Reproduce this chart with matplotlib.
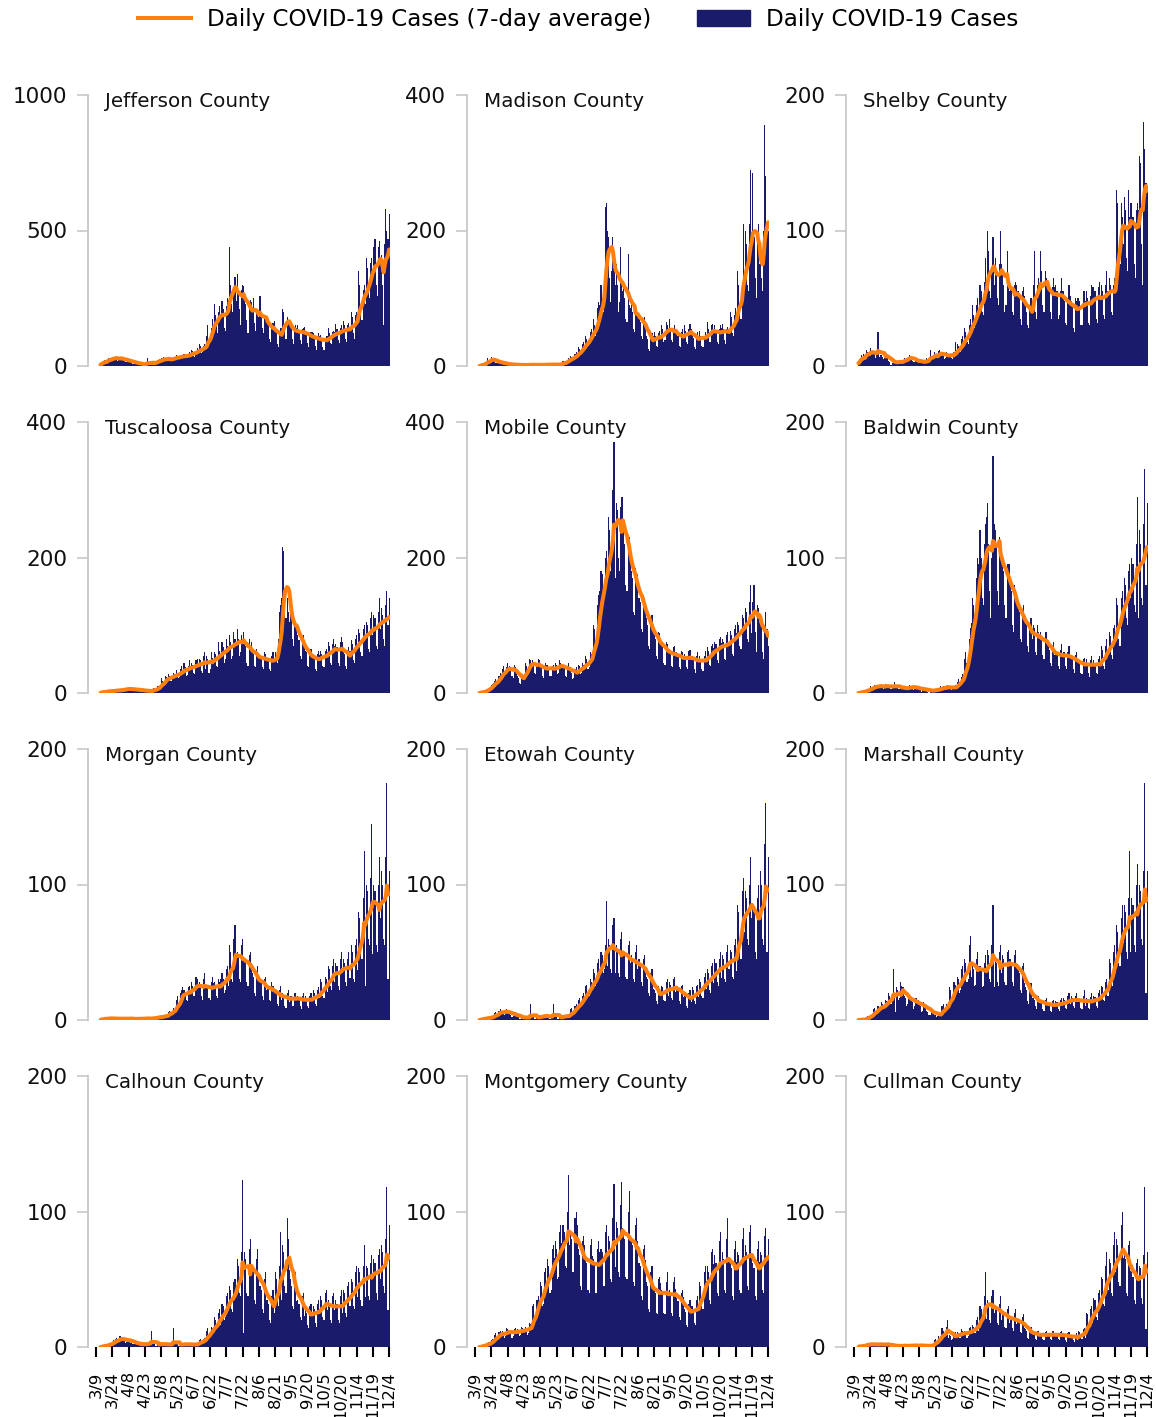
import numpy as np
import pandas as pd
import matplotlib
matplotlib.use("Agg")
import matplotlib.pyplot as plt
from matplotlib.lines import Line2D
from matplotlib.patches import Patch

# ---------------- data ----------------
counties = ["Jefferson County", "Madison County", "Shelby County",
            "Tuscaloosa County", "Mobile County", "Baldwin County",
            "Morgan County", "Etowah County", "Marshall County",
            "Calhoun County", "Montgomery County", "Cullman County"]
y_max = [1000, 400, 200, 400, 400, 200, 200, 200, 200, 200, 200, 200]

tick_days = list(range(0, 271, 15))
tick_labels = ["3/9", "3/24", "4/8", "4/23", "5/8", "5/23", "6/7", "6/22", "7/7",
               "7/22", "8/6", "8/21", "9/5", "9/20", "10/5", "10/20", "11/4",
               "11/19", "12/4"]
first_day = 4  # 3/13 (days counted from 3/9)

jefferson = [
    5, 10, 14, 18, 22, 18, 20,
    30, 25, 22, 28, 32, 30, 29,
    35, 26, 20, 24, 30, 34, 27,
    25, 18, 14, 16, 22, 24, 21,
    15, 10, 8, 9, 13, 14, 15,
    8, 5, 3, 4, 6, 8, 7,
    12, 30, 6, 5, 10, 9, 8,
    20, 17, 12, 14, 22, 24, 19,
    28, 24, 35, 18, 25, 27, 20,
    32, 27, 20, 22, 30, 35, 30,
    40, 36, 28, 26, 38, 42, 35,
    45, 40, 30, 28, 44, 50, 43,
    60, 55, 38, 35, 55, 65, 56,
    80, 72, 48, 50, 75, 82, 70,
    110, 150, 95, 90, 140, 175, 150,
    230, 190, 150, 120, 200, 220, 185,
    240, 210, 140, 130, 220, 250, 245,
    440, 300, 230, 200, 290, 330, 240,
    340, 280, 210, 150, 280, 300, 295,
    250, 230, 170, 120, 220, 245, 235,
    210, 250, 160, 130, 200, 200, 180,
    260, 190, 140, 120, 180, 190, 170,
    165, 150, 100, 90, 150, 160, 165,
    130, 120, 80, 70, 125, 140, 140,
    210, 200, 150, 100, 180, 165, 150,
    160, 140, 100, 80, 140, 150, 140,
    150, 130, 95, 80, 135, 140, 145,
    130, 120, 85, 70, 115, 125, 125,
    120, 110, 75, 60, 105, 120, 110,
    115, 100, 70, 60, 100, 110, 110,
    140, 120, 85, 80, 125, 130, 125,
    155, 135, 95, 85, 140, 150, 136,
    165, 150, 100, 90, 150, 160, 130,
    200, 180, 120, 100, 190, 200, 165,
    350, 300, 190, 170, 280, 300, 230,
    400, 360, 280, 250, 380, 400, 345,
    440, 470, 300, 260, 440, 460, 400,
    410, 300, 150, 450, 580, 500, 470,
    560]

madison = [
    0, 1, 2, 3, 4, 5, 4,
    12, 8, 6, 10, 14, 9, 7,
    8, 5, 4, 5, 7, 6, 5,
    4, 3, 2, 3, 4, 3, 2,
    2, 2, 1, 1, 3, 2, 2,
    2, 1, 1, 2, 2, 1, 2,
    1, 2, 1, 1, 2, 3, 2,
    2, 1, 1, 2, 2, 2, 1,
    2, 3, 1, 1, 2, 2, 3,
    2, 2, 1, 2, 3, 2, 2,
    3, 2, 1, 2, 3, 4, 3,
    8, 6, 4, 5, 9, 12, 10,
    15, 14, 10, 9, 18, 20, 16,
    28, 25, 18, 20, 32, 35, 30,
    45, 40, 30, 32, 50, 55, 48,
    70, 60, 45, 55, 85, 95, 90,
    120, 100, 80, 130, 235, 240, 200,
    190, 130, 95, 140, 190, 150, 120,
    150, 120, 80, 95, 175, 130, 110,
    120, 100, 70, 65, 165, 90, 85,
    95, 80, 55, 50, 90, 85, 80,
    75, 65, 45, 40, 70, 72, 65,
    45, 40, 25, 22, 42, 48, 44,
    50, 45, 30, 28, 48, 52, 42,
    60, 55, 35, 38, 65, 60, 50,
    70, 55, 38, 35, 55, 60, 52,
    50, 45, 30, 28, 50, 55, 45,
    60, 52, 35, 33, 55, 62, 55,
    48, 42, 28, 25, 45, 50, 42,
    52, 45, 30, 28, 45, 50, 45,
    65, 55, 35, 35, 60, 62, 52,
    60, 52, 35, 32, 55, 60, 56,
    62, 55, 38, 33, 55, 58, 50,
    80, 72, 48, 45, 75, 85, 65,
    140, 120, 80, 70, 120, 210, 130,
    200, 180, 120, 110, 210, 290, 180,
    285, 190, 130, 100, 200, 210, 150,
    150, 130, 110, 200, 355, 280, 210,
    200]

shelby = [
    2, 4, 6, 8, 7, 9, 6,
    12, 10, 8, 9, 13, 11, 9,
    10, 9, 6, 8, 25, 7, 8,
    8, 7, 5, 6, 9, 8, 7,
    4, 3, 1, 2, 4, 3, 4,
    3, 2, 2, 3, 4, 3, 4,
    6, 5, 4, 5, 7, 8, 7,
    5, 4, 3, 3, 5, 4, 4,
    3, 4, 2, 2, 3, 4, 3,
    6, 5, 4, 12, 6, 7, 5,
    10, 9, 6, 7, 11, 12, 9,
    9, 8, 5, 6, 10, 9, 8,
    8, 9, 6, 5, 10, 18, 8,
    16, 15, 12, 10, 20, 22, 18,
    28, 25, 18, 16, 30, 35, 30,
    45, 38, 28, 30, 45, 50, 42,
    60, 55, 40, 38, 62, 80, 55,
    100, 85, 55, 50, 70, 95, 60,
    80, 70, 50, 45, 75, 100, 75,
    70, 60, 40, 45, 85, 60, 55,
    60, 55, 40, 38, 60, 62, 60,
    55, 50, 35, 30, 55, 58, 52,
    45, 40, 30, 28, 45, 50, 42,
    60, 85, 40, 35, 60, 65, 55,
    85, 70, 45, 40, 70, 65, 60,
    60, 55, 40, 35, 58, 65, 58,
    60, 55, 35, 38, 55, 65, 55,
    55, 48, 32, 30, 50, 60, 52,
    48, 45, 28, 25, 50, 48, 50,
    50, 48, 30, 30, 55, 55, 48,
    55, 50, 32, 30, 52, 60, 58,
    58, 55, 35, 32, 58, 62, 50,
    60, 55, 38, 35, 60, 70, 55,
    65, 60, 40, 38, 60, 65, 65,
    130, 120, 80, 75, 120, 110, 90,
    125, 115, 80, 70, 130, 110, 120,
    120, 110, 75, 65, 115, 120, 115,
    155, 150, 90, 60, 180, 160, 135,
    130]

tuscaloosa = [
    0, 1, 2, 2, 3, 2, 3,
    3, 2, 2, 3, 4, 3, 4,
    5, 4, 3, 3, 5, 4, 5,
    7, 6, 4, 5, 8, 7, 6,
    6, 5, 3, 4, 6, 6, 5,
    5, 4, 2, 3, 5, 4, 4,
    3, 3, 2, 2, 4, 3, 4,
    8, 6, 5, 6, 10, 9, 12,
    22, 18, 14, 15, 25, 24, 22,
    28, 25, 18, 20, 30, 28, 26,
    34, 30, 22, 24, 35, 40, 30,
    45, 38, 25, 26, 40, 48, 38,
    45, 42, 30, 28, 48, 50, 42,
    50, 48, 32, 30, 55, 60, 35,
    55, 50, 30, 35, 60, 52, 48,
    60, 58, 40, 38, 75, 62, 52,
    75, 68, 45, 50, 80, 70, 67,
    85, 75, 50, 55, 90, 80, 70,
    95, 80, 55, 60, 85, 80, 90,
    75, 70, 45, 40, 80, 70, 75,
    60, 58, 40, 38, 65, 60, 57,
    55, 52, 38, 35, 60, 58, 52,
    52, 50, 35, 32, 55, 60, 52,
    60, 55, 45, 80, 120, 130, 140,
    215, 210, 150, 110, 140, 120, 105,
    120, 110, 80, 70, 110, 105, 100,
    85, 78, 55, 50, 80, 85, 70,
    62, 60, 40, 38, 62, 65, 58,
    55, 52, 35, 32, 58, 62, 56,
    62, 58, 40, 38, 62, 65, 60,
    75, 70, 45, 42, 72, 80, 70,
    72, 68, 45, 40, 75, 82, 75,
    60, 58, 40, 35, 62, 68, 62,
    78, 72, 48, 45, 80, 85, 70,
    95, 88, 60, 55, 95, 100, 85,
    105, 100, 65, 60, 110, 120, 85,
    115, 110, 70, 65, 120, 140, 95,
    125, 115, 80, 70, 130, 150, 100,
    140]

mobile = [
    0, 1, 1, 2, 3, 3, 4,
    6, 8, 7, 9, 12, 14, 15,
    18, 20, 15, 18, 25, 30, 28,
    35, 40, 25, 28, 38, 45, 35,
    40, 35, 25, 22, 42, 38, 30,
    25, 22, 15, 14, 25, 28, 24,
    45, 40, 30, 35, 50, 48, 45,
    48, 45, 30, 28, 45, 50, 48,
    40, 38, 25, 22, 40, 45, 42,
    42, 38, 25, 25, 40, 42, 38,
    45, 42, 28, 30, 48, 45, 42,
    42, 38, 25, 24, 40, 45, 38,
    35, 30, 20, 22, 35, 38, 30,
    42, 40, 28, 30, 45, 42, 40,
    55, 50, 35, 38, 60, 58, 54,
    100, 95, 70, 80, 130, 145, 150,
    180, 175, 130, 140, 200, 210, 190,
    260, 240, 180, 200, 300, 370, 170,
    280, 270, 200, 180, 275, 290, 290,
    240, 220, 160, 150, 220, 230, 215,
    180, 170, 120, 115, 185, 175, 175,
    140, 135, 95, 90, 145, 140, 130,
    110, 100, 70, 65, 110, 115, 95,
    85, 80, 55, 50, 90, 88, 77,
    70, 68, 45, 42, 75, 72, 62,
    65, 60, 40, 38, 68, 70, 58,
    60, 55, 38, 35, 62, 60, 54,
    58, 55, 38, 35, 62, 64, 52,
    55, 52, 35, 30, 55, 60, 49,
    55, 50, 35, 32, 55, 62, 47,
    68, 62, 42, 40, 70, 72, 66,
    75, 72, 48, 45, 80, 82, 74,
    80, 75, 50, 48, 85, 90, 76,
    92, 85, 58, 55, 95, 100, 89,
    105, 100, 70, 65, 115, 110, 100,
    125, 120, 80, 75, 135, 160, 89,
    135, 160, 90, 60, 130, 125, 105,
    110, 100, 60, 50, 95, 120, 95,
    70]

baldwin = [
    0, 0, 1, 1, 1, 2, 1,
    2, 3, 2, 3, 5, 4, 3,
    5, 6, 4, 5, 6, 5, 4,
    6, 5, 3, 4, 7, 6, 5,
    5, 4, 3, 4, 6, 8, 5,
    4, 5, 3, 3, 5, 4, 4,
    4, 3, 2, 3, 5, 6, 5,
    5, 4, 2, 3, 5, 4, 5,
    3, 2, 1, 2, 4, 3, 4,
    2, 1, 0, 1, 3, 2, 3,
    3, 2, 1, 2, 4, 3, 5,
    4, 5, 3, 2, 5, 6, 4,
    5, 4, 2, 3, 5, 6, 4,
    8, 10, 7, 8, 12, 14, 11,
    25, 30, 22, 28, 40, 48, 52,
    70, 65, 50, 60, 85, 100, 95,
    120, 100, 70, 65, 110, 125, 130,
    140, 110, 75, 55, 100, 175, 125,
    120, 110, 75, 65, 115, 110, 105,
    100, 90, 65, 55, 95, 95, 95,
    80, 75, 50, 45, 80, 75, 71,
    65, 60, 40, 38, 62, 65, 55,
    55, 50, 35, 30, 50, 55, 40,
    50, 48, 30, 28, 50, 45, 43,
    45, 40, 28, 25, 45, 45, 38,
    35, 32, 22, 20, 35, 38, 28,
    32, 30, 20, 18, 32, 36, 28,
    30, 30, 20, 18, 30, 35, 26,
    28, 26, 18, 15, 28, 30, 23,
    24, 22, 15, 14, 25, 26, 21,
    25, 22, 15, 12, 24, 27, 22,
    24, 22, 15, 14, 25, 27, 20,
    35, 32, 20, 18, 35, 40, 30,
    45, 42, 28, 25, 48, 50, 42,
    70, 65, 40, 35, 70, 75, 65,
    85, 80, 55, 50, 90, 95, 70,
    100, 95, 65, 60, 110, 145, 55,
    120, 110, 70, 65, 125, 165, 80,
    140]

morgan = [
    0, 1, 0, 1, 2, 1, 1,
    1, 2, 0, 1, 2, 1, 1,
    1, 1, 0, 1, 2, 1, 1,
    1, 0, 1, 1, 2, 1, 1,
    1, 1, 0, 0, 2, 1, 1,
    1, 1, 0, 1, 1, 2, 1,
    1, 2, 0, 1, 1, 1, 2,
    2, 2, 1, 1, 3, 2, 3,
    3, 2, 2, 3, 4, 3, 4,
    6, 7, 5, 5, 9, 8, 7,
    15, 18, 12, 12, 20, 22, 24,
    22, 20, 15, 14, 24, 25, 22,
    28, 25, 18, 18, 32, 30, 25,
    28, 25, 18, 15, 30, 35, 24,
    26, 24, 16, 15, 28, 32, 27,
    28, 25, 18, 16, 30, 28, 30,
    35, 30, 20, 22, 38, 40, 25,
    55, 50, 30, 28, 60, 70, 45,
    50, 48, 30, 28, 55, 60, 44,
    45, 42, 28, 25, 48, 50, 42,
    35, 32, 20, 18, 35, 40, 30,
    30, 28, 18, 15, 30, 32, 22,
    26, 25, 15, 14, 28, 25, 21,
    22, 20, 12, 10, 22, 25, 15,
    20, 18, 10, 9, 20, 22, 13,
    18, 18, 10, 10, 20, 20, 16,
    18, 16, 10, 8, 18, 20, 15,
    18, 15, 10, 9, 18, 20, 15,
    22, 20, 12, 10, 22, 24, 16,
    30, 28, 18, 16, 32, 30, 21,
    40, 38, 25, 22, 40, 45, 28,
    42, 40, 25, 22, 45, 50, 35,
    45, 42, 28, 25, 45, 50, 31,
    55, 50, 30, 28, 55, 60, 37,
    80, 75, 50, 45, 90, 125, 25,
    100, 95, 60, 55, 105, 145, 49,
    100, 95, 55, 50, 100, 120, 75,
    110, 100, 60, 55, 120, 175, 30,
    110]

etowah = [
    0, 0, 1, 1, 2, 1, 1,
    2, 2, 1, 2, 3, 3, 2,
    5, 6, 3, 4, 7, 8, 5,
    7, 6, 4, 5, 8, 7, 5,
    5, 4, 2, 3, 5, 6, 3,
    2, 3, 1, 1, 3, 2, 2,
    2, 2, 1, 1, 3, 12, 2,
    2, 3, 1, 1, 2, 3, 2,
    3, 4, 2, 2, 4, 3, 3,
    3, 2, 1, 2, 4, 12, 3,
    2, 2, 1, 1, 3, 3, 2,
    3, 4, 2, 2, 4, 3, 3,
    8, 9, 5, 6, 10, 12, 8,
    15, 16, 10, 12, 18, 20, 15,
    25, 26, 18, 18, 30, 28, 23,
    38, 35, 25, 28, 42, 45, 32,
    50, 48, 35, 38, 55, 88, 40,
    60, 55, 38, 35, 70, 75, 35,
    55, 52, 35, 32, 60, 65, 51,
    50, 48, 32, 30, 55, 58, 42,
    48, 45, 30, 28, 50, 55, 38,
    45, 40, 28, 25, 45, 48, 35,
    32, 30, 20, 18, 35, 38, 23,
    22, 20, 14, 12, 25, 22, 18,
    25, 24, 15, 14, 28, 30, 18,
    28, 26, 16, 15, 30, 32, 21,
    24, 22, 14, 12, 25, 26, 17,
    20, 18, 10, 9, 20, 22, 13,
    24, 22, 14, 12, 25, 26, 17,
    30, 28, 18, 16, 32, 35, 23,
    38, 35, 22, 20, 40, 42, 27,
    45, 42, 28, 25, 45, 50, 31,
    48, 45, 30, 28, 50, 55, 38,
    52, 50, 32, 30, 55, 60, 36,
    85, 80, 50, 45, 95, 105, 65,
    95, 90, 60, 55, 100, 120, 75,
    85, 80, 50, 45, 90, 100, 75,
    110, 100, 60, 55, 130, 160, 50,
    120]

marshall = [
    0, 0, 0, 1, 0, 1, 0,
    2, 3, 2, 3, 4, 4, 3,
    8, 9, 6, 7, 10, 9, 8,
    13, 12, 8, 9, 15, 14, 13,
    20, 18, 12, 14, 38, 18, 6,
    24, 22, 15, 16, 28, 25, 24,
    18, 16, 10, 12, 20, 18, 18,
    14, 13, 8, 10, 16, 15, 15,
    11, 10, 6, 7, 13, 12, 11,
    7, 6, 4, 4, 8, 7, 6,
    4, 4, 2, 3, 5, 6, 4,
    10, 12, 7, 8, 12, 11, 10,
    24, 22, 15, 16, 28, 26, 23,
    32, 30, 20, 22, 38, 40, 28,
    45, 42, 28, 30, 55, 62, 32,
    42, 38, 25, 26, 45, 50, 40,
    40, 36, 24, 25, 42, 48, 37,
    52, 48, 30, 28, 55, 85, 24,
    45, 42, 28, 25, 50, 55, 35,
    48, 45, 28, 26, 50, 52, 45,
    45, 42, 28, 25, 48, 52, 40,
    38, 35, 22, 20, 40, 42, 27,
    24, 22, 14, 12, 25, 27, 16,
    16, 15, 10, 8, 18, 18, 13,
    14, 13, 8, 7, 15, 16, 11,
    13, 12, 7, 6, 14, 15, 10,
    14, 13, 8, 7, 15, 16, 11,
    16, 15, 9, 8, 18, 20, 12,
    18, 16, 10, 9, 18, 20, 14,
    16, 15, 9, 8, 18, 22, 10,
    16, 15, 9, 8, 17, 20, 13,
    18, 17, 10, 9, 20, 22, 16,
    25, 24, 15, 14, 28, 30, 18,
    45, 42, 28, 25, 50, 55, 35,
    70, 65, 42, 40, 75, 85, 57,
    85, 80, 50, 45, 90, 125, 50,
    90, 85, 55, 50, 100, 115, 80,
    100, 95, 60, 55, 110, 175, 20,
    110]

calhoun = [
    0, 0, 1, 1, 2, 1, 1,
    2, 3, 2, 3, 4, 5, 3,
    6, 7, 4, 5, 8, 7, 5,
    5, 6, 3, 4, 6, 6, 5,
    3, 4, 2, 2, 4, 3, 3,
    2, 2, 1, 1, 3, 3, 2,
    3, 2, 2, 2, 4, 12, 2,
    2, 2, 1, 1, 3, 3, 2,
    2, 3, 1, 1, 2, 3, 2,
    2, 2, 1, 1, 14, 2, 2,
    2, 2, 1, 1, 3, 2, 2,
    2, 3, 1, 1, 3, 2, 2,
    2, 2, 1, 1, 3, 3, 2,
    5, 6, 3, 3, 6, 7, 5,
    12, 14, 8, 9, 15, 14, 12,
    22, 20, 14, 15, 25, 28, 16,
    32, 30, 20, 22, 38, 40, 28,
    45, 42, 28, 26, 48, 50, 41,
    65, 60, 40, 38, 70, 123, 10,
    70, 65, 40, 38, 72, 80, 55,
    60, 55, 35, 32, 65, 72, 52,
    45, 42, 28, 25, 50, 55, 35,
    35, 32, 20, 18, 38, 42, 25,
    55, 50, 35, 30, 60, 85, 35,
    75, 70, 45, 40, 95, 80, 57,
    50, 45, 30, 28, 52, 55, 34,
    35, 32, 22, 20, 38, 40, 23,
    28, 25, 16, 14, 30, 32, 23,
    30, 28, 18, 15, 32, 35, 24,
    38, 35, 22, 20, 40, 42, 27,
    35, 32, 20, 18, 38, 40, 27,
    35, 32, 20, 18, 38, 42, 25,
    42, 40, 25, 22, 45, 48, 30,
    50, 48, 30, 28, 55, 60, 37,
    58, 55, 35, 30, 60, 75, 37,
    60, 58, 38, 35, 62, 68, 50,
    65, 62, 40, 35, 68, 72, 50,
    75, 70, 45, 40, 80, 118, 27,
    90]

montgomery = [
    0, 0, 1, 1, 2, 2, 1,
    3, 4, 2, 3, 5, 6, 5,
    9, 10, 6, 7, 11, 12, 8,
    12, 11, 7, 8, 14, 13, 12,
    12, 11, 7, 8, 13, 14, 12,
    13, 12, 8, 9, 15, 14, 13,
    15, 14, 9, 10, 18, 17, 15,
    30, 32, 20, 22, 35, 38, 33,
    48, 45, 30, 32, 55, 58, 47,
    65, 60, 40, 42, 72, 75, 66,
    78, 72, 50, 52, 85, 90, 77,
    90, 85, 60, 58, 100, 127, 75,
    85, 80, 55, 55, 95, 100, 90,
    72, 68, 45, 42, 78, 82, 75,
    68, 62, 42, 40, 75, 80, 67,
    65, 62, 40, 40, 72, 78, 70,
    72, 70, 45, 45, 85, 90, 69,
    82, 78, 50, 48, 95, 120, 59,
    92, 88, 55, 52, 105, 122, 88,
    85, 80, 52, 50, 100, 115, 78,
    80, 75, 48, 45, 90, 95, 78,
    62, 60, 38, 35, 72, 75, 64,
    48, 45, 28, 26, 55, 60, 46,
    42, 40, 25, 24, 50, 52, 47,
    42, 40, 25, 24, 48, 55, 39,
    42, 40, 25, 23, 48, 52, 43,
    36, 34, 22, 20, 40, 42, 37,
    28, 26, 16, 15, 32, 35, 30,
    30, 28, 18, 16, 35, 38, 31,
    48, 45, 30, 28, 55, 60, 49,
    60, 55, 35, 32, 70, 72, 61,
    68, 62, 40, 38, 78, 85, 63,
    70, 65, 42, 40, 80, 95, 63,
    62, 58, 38, 35, 72, 78, 63,
    70, 68, 42, 40, 80, 88, 67,
    75, 70, 45, 42, 85, 90, 69,
    62, 58, 38, 35, 72, 78, 63,
    70, 68, 42, 40, 82, 88, 65,
    80]

cullman = [
    0, 1, 0, 1, 2, 1, 1,
    2, 3, 1, 2, 3, 2, 1,
    2, 3, 1, 1, 3, 2, 2,
    2, 2, 1, 1, 3, 2, 3,
    1, 1, 0, 1, 2, 1, 1,
    1, 0, 0, 1, 2, 1, 1,
    1, 1, 0, 0, 2, 1, 2,
    1, 1, 0, 1, 2, 1, 1,
    1, 2, 0, 1, 1, 1, 1,
    1, 1, 0, 1, 2, 1, 2,
    5, 6, 4, 4, 8, 7, 8,
    14, 12, 8, 8, 15, 20, 7,
    9, 8, 5, 6, 10, 11, 7,
    11, 10, 7, 7, 13, 12, 10,
    12, 11, 7, 8, 14, 15, 10,
    16, 15, 10, 10, 20, 22, 12,
    30, 28, 18, 20, 38, 55, 21,
    35, 32, 20, 18, 38, 42, 25,
    30, 28, 18, 16, 32, 38, 20,
    25, 24, 15, 14, 28, 30, 18,
    22, 22, 14, 12, 25, 28, 17,
    20, 18, 11, 10, 22, 24, 14,
    13, 12, 7, 6, 14, 15, 10,
    10, 10, 6, 5, 12, 12, 8,
    10, 10, 6, 5, 11, 12, 9,
    10, 10, 6, 5, 12, 12, 8,
    10, 10, 6, 5, 11, 12, 9,
    9, 9, 5, 4, 10, 11, 8,
    8, 8, 5, 4, 9, 10, 5,
    12, 11, 7, 6, 13, 14, 7,
    25, 24, 15, 14, 28, 30, 18,
    36, 35, 22, 20, 40, 42, 29,
    52, 50, 32, 30, 60, 70, 42,
    65, 62, 40, 38, 75, 85, 55,
    80, 75, 48, 45, 90, 100, 66,
    68, 65, 40, 38, 75, 78, 56,
    55, 52, 35, 32, 62, 65, 49,
    60, 58, 36, 32, 68, 118, 13,
    70]

series = [jefferson, madison, shelby, tuscaloosa, mobile, baldwin,
          morgan, etowah, marshall, calhoun, montgomery, cullman]

# ---------------- style ----------------
NAVY = "#1b1b6b"
ORANGE = "#ff7f0e"
SPINE = "#c8c8c8"

W, H = 1156, 1417
fig = plt.figure(figsize=(W / 100, H / 100), dpi=100)

col_left = [88, 467, 846]
row_zero = [366, 693, 1020, 1347]
panel_h = 271
x_lo, x_hi = -7.5, 271.0
panel_w = (x_hi - x_lo) * 1.085

for i, (name, vals, ym) in enumerate(zip(counties, series, y_max)):
    r, c = divmod(i, 3)
    left = col_left[c] / W
    bottom = 1 - row_zero[r] / H
    ax = fig.add_axes([left, bottom, panel_w / W, panel_h / H])
    s = pd.Series(vals, dtype=float)
    x = np.arange(first_day, first_day + len(s))
    ax.bar(x, s.values, width=1.0, color=NAVY, linewidth=0, zorder=2)
    avg = s.rolling(7, min_periods=1).mean()
    ax.plot(x, avg.values, color=ORANGE, lw=2.9, zorder=3,
            solid_capstyle="round", solid_joinstyle="round")
    ax.set_xlim(x_lo, x_hi)
    ax.set_ylim(0, ym)
    ax.set_yticks([0, ym // 2, ym])
    ax.set_yticklabels([str(v) for v in [0, ym // 2, ym]])
    for sp in ["top", "right", "bottom"]:
        ax.spines[sp].set_visible(False)
    ax.spines["left"].set_color(SPINE)
    ax.spines["left"].set_linewidth(1.3)
    ax.tick_params(axis="y", length=8, width=1.2, color=SPINE,
                   labelsize=15.5, pad=7, labelcolor="#111111")
    if r == 3:
        ax.set_xticks(tick_days)
        ax.set_xticklabels(tick_labels, rotation=90, fontsize=11.8)
        ax.tick_params(axis="x", length=7.5, width=1.5, color="black", pad=10)
    else:
        ax.set_xticks([])
    ax.patch.set_alpha(0)
    ax.text(0.055, 1.012, name, transform=ax.transAxes, ha="left", va="top",
            fontsize=14.3, color="#111111")

handles = [Line2D([0], [0], color=ORANGE, lw=2.9),
           Patch(facecolor=NAVY, edgecolor=NAVY)]
fig.legend(handles, ["Daily COVID-19 Cases (7-day average)", "Daily COVID-19 Cases"],
           loc="upper center", bbox_to_anchor=(0.5, 1.009), ncol=2, frameon=False,
           fontsize=16.6, handlelength=2.3, handletextpad=0.7, columnspacing=2.0)

fig.savefig("out.png", dpi=100)
